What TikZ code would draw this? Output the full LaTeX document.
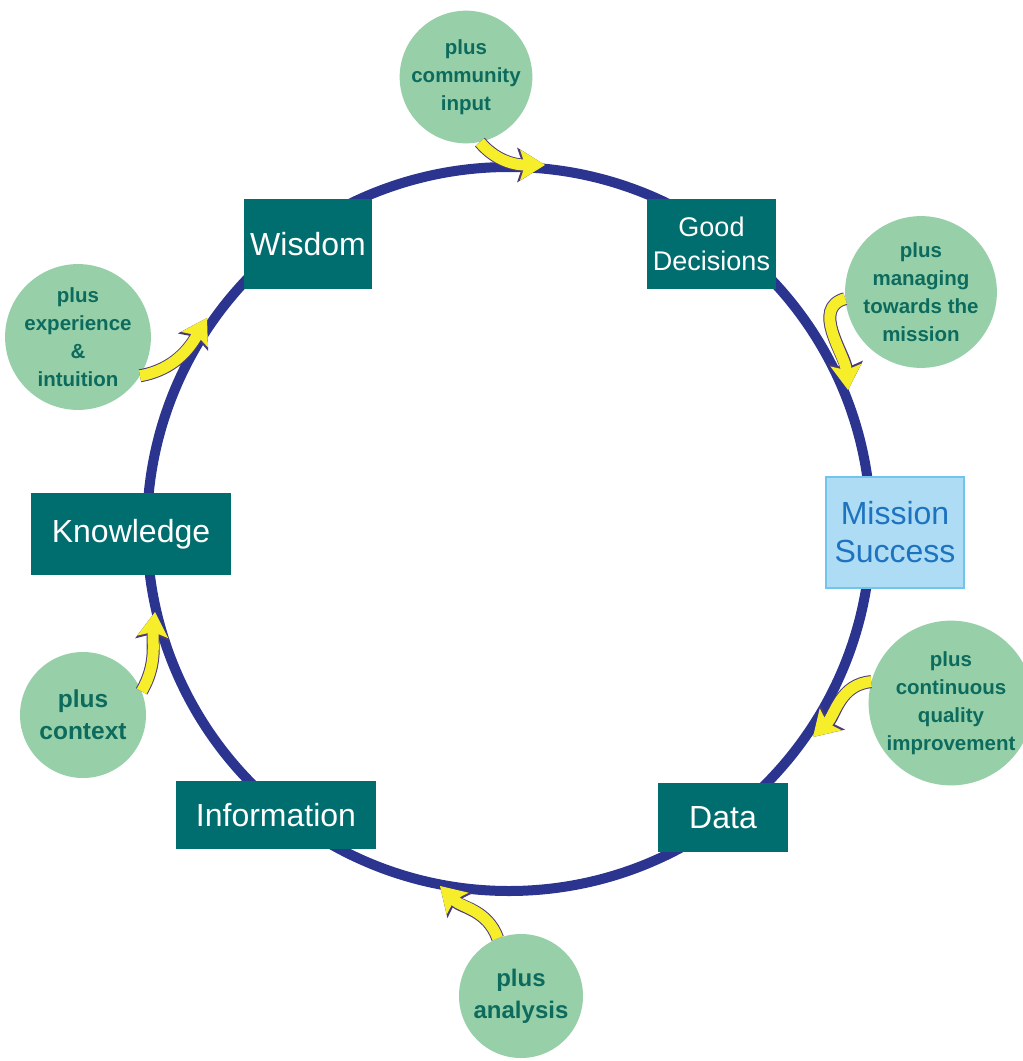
\documentclass[tikz,border=0pt]{standalone}
\usepackage{fontspec}
\setmainfont{Liberation Sans}
\usetikzlibrary{arrows.meta}
\definecolor{ringblue}{HTML}{2B3590}
\definecolor{stageteal}{HTML}{006D6E}
\definecolor{missionfill}{HTML}{AEDCF5}
\definecolor{missionedge}{HTML}{71C5EC}
\definecolor{missiontext}{HTML}{1E73BE}
\definecolor{plusgreen}{HTML}{97D0A8}
\definecolor{plustext}{HTML}{0D6B5E}
\definecolor{arrowyellow}{HTML}{F6EE2A}
\definecolor{arrowedge}{HTML}{4B3A7A}
\begin{document}
\begin{tikzpicture}[x=1pt,y=1pt,
  stage/.style={fill=stageteal,text=white,inner sep=0pt,align=center,font=\fontsize{32}{38}\selectfont},
  extra/.style={circle,fill=plusgreen,text=plustext,inner sep=0pt,align=center,font=\bfseries\fontsize{20.5}{28}\selectfont},
  feed/.style={draw=arrowyellow,line width=11pt,-{Stealth[length=25pt,width=31pt,inset=5pt,line width=0pt]},
    preaction={draw=arrowedge,line width=13pt,-{Stealth[length=28pt,width=35pt,inset=6pt,line width=0pt]}}}]
  \useasboundingbox (0,0) rectangle (1023,-1061);
  % the cycle
  \draw[ringblue,line width=10pt] (509,-529) circle (362);
  \node[stage,minimum width=128,minimum height=90] (wisdom) at (308,-244) {Wisdom};
  \node[stage,minimum width=129,minimum height=90,font=\fontsize{27}{34}\selectfont] (decisions) at (711.5,-244) {Good\\Decisions};
  \node[stage,fill=missionfill,draw=missionedge,line width=1.5pt,text=missiontext,minimum width=138,minimum height=111] (mission) at (895,-532.5) {Mission\\Success};
  \node[stage,minimum width=130,minimum height=69] (data) at (723,-817.5) {Data};
  \node[stage,minimum width=200,minimum height=68] (information) at (276,-815) {Information};
  \node[stage,minimum width=200,minimum height=82] (knowledge) at (131,-534) {Knowledge};
  % what gets added on the way
  \node[extra,minimum size=122] (community) at (466,-77) {plus\\community\\input};
  \node[extra,minimum size=130] (managing) at (921,-292) {plus\\managing\\towards the\\mission};
  \node[extra,minimum size=138] (quality) at (951,-703) {plus\\continuous\\quality\\improvement};
  \node[extra,minimum size=124,font=\bfseries\fontsize{24}{32}\selectfont] (analysis) at (521,-996) {plus\\analysis};
  \node[extra,minimum size=126,font=\bfseries\fontsize{24.5}{32}\selectfont] (context) at (83,-715) {plus\\context};
  \node[extra,minimum size=140] (experience) at (78,-337) {plus\\experience\\\&\\intuition};
  \coordinate (toDecisions) at (545,-165);
  \coordinate (toMission) at (848,-390);
  \coordinate (toData) at (813,-737);
  \coordinate (toInformation) at (440,-886);
  \coordinate (toKnowledge) at (155,-612);
  \coordinate (toWisdom) at (207,-318);
  \draw[feed] (community.-78) to[out=-50,in=180] (toDecisions);
  \draw[feed] (managing.185) to[out=195,in=95] (toMission);
  \draw[feed] (quality.165) to[out=185,in=45] (toData);
  \draw[feed] (analysis.112) to[out=110,in=-45] (toInformation);
  \draw[feed] (context.22) to[out=60,in=-95] (toKnowledge);
  \draw[feed] (experience.-32) to[out=10,in=-120] (toWisdom);
\end{tikzpicture}
\end{document}
